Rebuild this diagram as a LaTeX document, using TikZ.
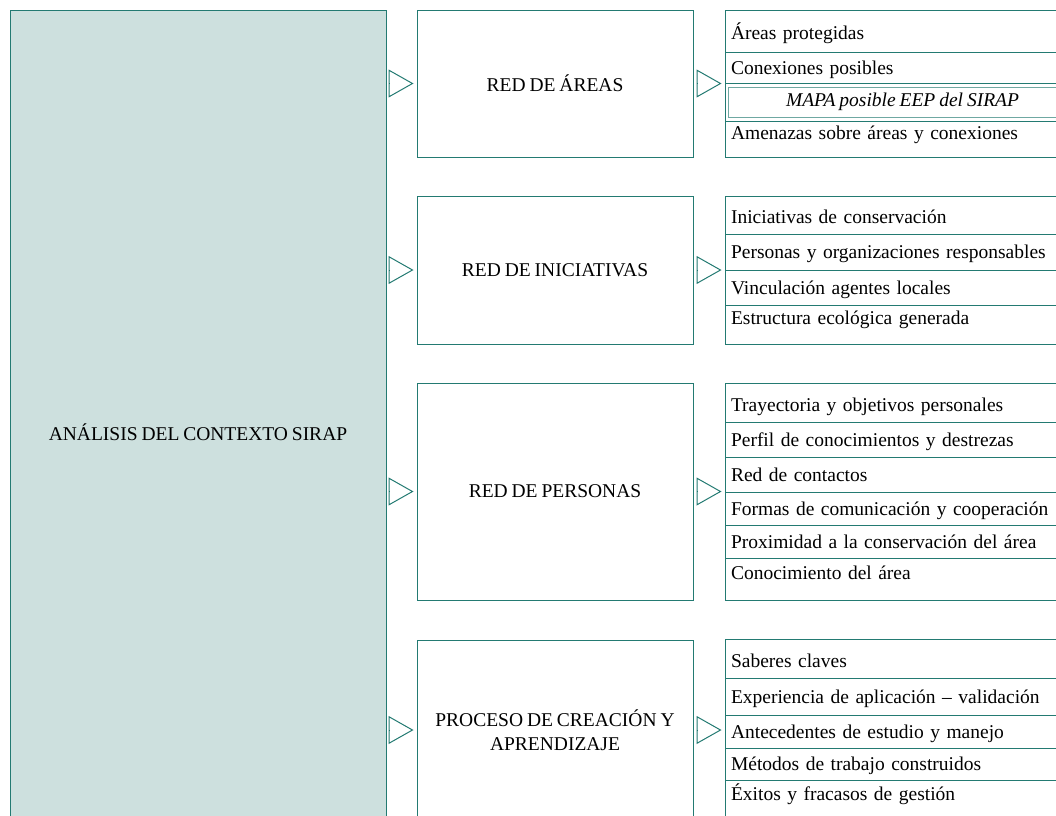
\documentclass[tikz,border=0pt]{standalone}
\usepackage{fontspec}
\setmainfont{Liberation Serif}[WordSpace=0.8]
\usepackage{xcolor}
\usepackage{tikz}
\usetikzlibrary{arrows.meta,positioning}

\definecolor{sirapteal}{HTML}{237A72}
\definecolor{sirapfill}{HTML}{CDE0DE}
\definecolor{sirapline}{HTML}{6FA8A2}

\begin{document}
\begin{tikzpicture}[
    x=1pt, y=-1pt,
    mainbox/.style={rectangle, draw=sirapteal, line width=1pt, fill=sirapfill, outer sep=0pt, minimum width=376pt, minimum height=845pt, align=center, font=\fontsize{19.5pt}{24pt}\selectfont},
    redbox/.style={rectangle, draw=sirapteal, line width=1pt, outer sep=0pt, minimum width=276pt, align=center, font=\fontsize{19.5pt}{24pt}\selectfont},
    listbox/.style={rectangle, draw=sirapteal, line width=1pt, minimum width=355pt, inner sep=0pt, outer sep=0pt},
    rowbox/.style={rectangle, draw=sirapteal, line width=1pt, text width=343pt, inner xsep=6pt, inner ysep=0pt, outer sep=0pt, minimum height=35pt, text height=16pt, text depth=3pt, align=left, font=\fontsize{19.5pt}{24pt}\selectfont},
    firstrow/.style={text height=20pt},
    lastrow/.style={text depth=16pt},
    mapabox/.style={rectangle, draw=sirapline, line width=0.8pt, minimum width=349pt, minimum height=30pt, inner sep=0pt, outer sep=0pt, font=\fontsize{19.5pt}{24pt}\selectfont\itshape},
    arrow/.style={-{Triangle[open, length=25pt, width=28pt]}, draw=sirapteal, line width=1pt, shorten <=3.5pt, shorten >=3.5pt}
]
\useasboundingbox (0,0) rectangle (1056,815);
\clip (0,0) rectangle (1056,815);

% Nodes
\node[mainbox, anchor=north west] (contexto) at (10,10) {ANÁLISIS DEL CONTEXTO SIRAP};
\node[redbox, minimum height=147pt, below right=0pt and 31pt of contexto.north east] (areas) {RED DE ÁREAS};
\node[redbox, minimum height=148pt, below=39pt of areas] (iniciativas) {RED DE INICIATIVAS};
\node[redbox, minimum height=217pt, below=39pt of iniciativas] (personas) {RED DE PERSONAS};
\node[redbox, minimum height=180pt, below=40pt of personas] (proceso) {PROCESO DE CREACIÓN Y\\APRENDIZAJE};

% Lists
\node[listbox, minimum height=147pt, right=32pt of areas] (areas_list) {};
\node[rowbox, firstrow, minimum height=42pt, anchor=north west] (protegidas) at (areas_list.north west) {Áreas protegidas};
\node[rowbox, minimum height=31pt, below=0pt of protegidas] (conexiones) {Conexiones posibles};
\node[mapabox, below=4pt of conexiones] (mapa) {MAPA posible EEP del SIRAP};
\node[rowbox, lastrow, minimum height=36pt, below=4pt of mapa] (amenazas) {Amenazas sobre áreas y conexiones};

\node[listbox, minimum height=148pt, right=32pt of iniciativas] (iniciativas_list) {};
\node[rowbox, firstrow, minimum height=38pt, anchor=north west] (conservacion) at (iniciativas_list.north west) {Iniciativas de conservación};
\node[rowbox, minimum height=36pt, below=0pt of conservacion] (responsables) {Personas y organizaciones responsables};
\node[rowbox, minimum height=35pt, below=0pt of responsables] (vinculacion) {Vinculación agentes locales};
\node[rowbox, lastrow, minimum height=39pt, below=0pt of vinculacion] (estructura) {Estructura ecológica generada};

\node[listbox, minimum height=217pt, right=32pt of personas] (personas_list) {};
\node[rowbox, firstrow, minimum height=39pt, anchor=north west] (trayectoria) at (personas_list.north west) {Trayectoria y objetivos personales};
\node[rowbox, minimum height=35pt, below=0pt of trayectoria] (perfil) {Perfil de conocimientos y destrezas};
\node[rowbox, minimum height=35pt, below=0pt of perfil] (contactos) {Red de contactos};
\node[rowbox, minimum height=33pt, below=0pt of contactos] (comunicacion) {Formas de comunicación y cooperación};
\node[rowbox, minimum height=33pt, below=0pt of comunicacion] (proximidad) {Proximidad a la conservación del área};
\node[rowbox, lastrow, minimum height=42pt, below=0pt of proximidad] (conocimiento) {Conocimiento del área};

\node[listbox, minimum height=182pt, right=32pt of proceso] (proceso_list) {};
\node[rowbox, firstrow, minimum height=39pt, anchor=north west] (saberes) at (proceso_list.north west) {Saberes claves};
\node[rowbox, minimum height=37pt, below=0pt of saberes] (experiencia) {Experiencia de aplicación – validación};
\node[rowbox, minimum height=33pt, below=0pt of experiencia] (antecedentes) {Antecedentes de estudio y manejo};
\node[rowbox, minimum height=32pt, below=0pt of antecedentes] (metodos) {Métodos de trabajo construidos};
\node[rowbox, lastrow, minimum height=41pt, below=0pt of metodos] (exitos) {Éxitos y fracasos de gestión};

% Edges
\draw[arrow] (contexto.east |- areas.west) -- (areas.west);
\draw[arrow] (contexto.east |- iniciativas.west) -- (iniciativas.west);
\draw[arrow] (contexto.east |- personas.west) -- (personas.west);
\draw[arrow] (contexto.east |- proceso.west) -- (proceso.west);
\draw[arrow] (areas) -- (areas_list);
\draw[arrow] (iniciativas) -- (iniciativas_list);
\draw[arrow] (personas) -- (personas_list);
\draw[arrow] (proceso) -- (proceso_list);

\end{tikzpicture}
\end{document}
